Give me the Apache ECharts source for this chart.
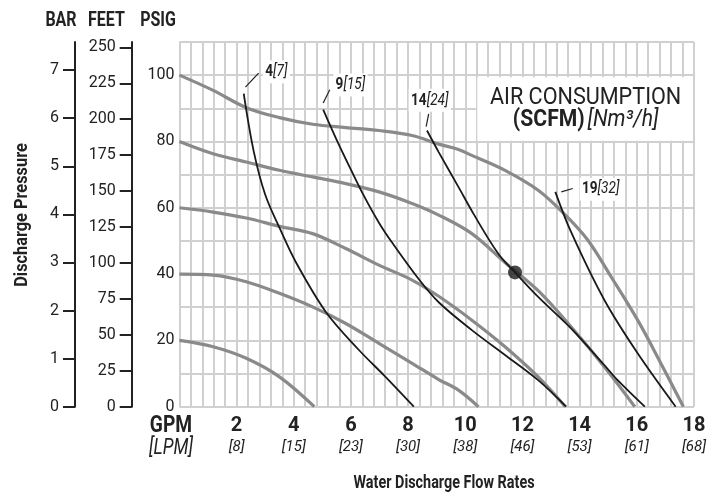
<!DOCTYPE html>
<html><head><meta charset="utf-8">
<script src="https://cdn.jsdelivr.net/npm/echarts@6/dist/echarts.min.js"></script>
<style>html,body{margin:0;padding:0;background:#fff}#c{width:709px;height:493px}</style>
</head><body><div id="c"></div>
<script>
const FONT = "Roboto,'Liberation Sans',sans-serif";
const SX = 0.8; // horizontal condensing for free texts
const GRID = '#d0d0d0';
const GREY = '#8a8a8a';
const BLACK = '#1a1a1a';
const TXT = '#222';

// axis ticks
const gpmTicks = [2, 4, 6, 8, 10, 12, 14, 16, 18];
const lpmLabels = ['[8]', '[15]', '[23]', '[30]', '[38]', '[46]', '[53]', '[61]', '[68]'];
const psigTicks = [0, 20, 40, 60, 80, 100];
const feetTicks = [0, 25, 50, 75, 100, 125, 150, 175, 200, 225, 250];
const barTicks = [0, 1, 2, 3, 4, 5, 6, 7];
const FT_PER_PSI = 2.3067;
const PSI_PER_BAR = 14.5038;
const PSI_MAX = 110;

// performance curves (GPM, PSIG) by air inlet pressure
const perf100 = [[0,100],[1.18,95.4],[2.34,90.2],[3.5,87.2],[4.66,85.2],[5.82,84.2],[6.98,83.3],[8.14,81.8],[9.07,79.2],[9.76,77.6],[10.23,75.8],[11.39,71.3],[12.55,65.3],[13.48,58.0],[14.29,50.2],[15.1,39.2],[16.03,26.1],[16.72,15.1],[17.63,0]];
const perf80 = [[0,80],[1.18,76.3],[2.34,73.8],[3.5,71.3],[4.66,69.3],[5.82,67.3],[6.98,64.8],[8.14,61.3],[9.07,57.8],[10.23,52.2],[11.39,43.5],[12.55,35.0],[13.7,24.1],[14.87,12.0],[15.93,0]];
const perf60 = [[0,60],[1.18,58.7],[2.34,56.9],[3.5,54.4],[4.66,52.2],[5.82,47.7],[6.98,42.7],[8.14,38.2],[9.07,33.3],[10.23,26.1],[11.39,18.1],[12.55,9.0],[13.5,0]];
const perf40 = [[0,40],[1.18,39.7],[2.34,37.7],[3.5,34.2],[4.66,30.1],[5.82,25.1],[6.98,19.1],[8.14,13.1],[9.07,8.2],[9.76,5.0],[10.46,0]];
const perf20 = [[0,20],[1.18,18.1],[2.34,14.6],[3.5,9.0],[4.72,0]];

// air consumption lines (GPM, PSIG)
const scfm4 = [[2.25,94.4],[2.6,77.0],[3.0,64.0],[3.5,54.0],[4.08,43.5],[5.13,28.5],[6.28,17.1],[7.21,9.0],[8.2,0]];
const scfm9 = [[5.03,89.6],[5.5,80.5],[6.0,71.5],[6.46,63.5],[6.98,55.5],[7.44,49.5],[8.37,38.5],[9.07,31.5],[10.23,23.1],[11.39,15.6],[12.55,8.0],[13.53,0]];
const scfm14 = [[8.66,83.3],[9.07,76.8],[9.76,66.3],[10.3,58.0],[11.15,46.2],[11.74,40.5],[12.55,33.1],[13.7,23.6],[14.87,12.5],[15.33,8.0],[16.28,0]];
const scfm19 = [[13.15,64.8],[13.7,52.7],[14.87,32.1],[16.03,16.1],[17.36,0]];
const opPoint = [[11.74,40.5]];

// labels for air consumption lines: [bold, italic, textPos, leaderFrom, leaderTo]
const scfmLabels = [
  ['4', '[7]', [2.92,101.0], [2.31,96.4], [2.77,100.6]],
  ['9', '[15]', [5.38,97.0], [5.03,91.6], [5.26,95.6]],
  ['14', '[24]', [8.02,92.4], [8.63,84.5], [8.72,88.3]],
  ['19', '[32]', [14.0,65.6], [13.36,64.8], [13.76,65.8]]
];

const chart = echarts.init(document.getElementById('c'), null, {renderer: 'canvas'});

function lineSeries(data, color, width, z) {
  return {type: 'line', data: data, smooth: 0.35, showSymbol: false, symbol: 'none',
    lineStyle: {color: color, width: width}, z: z, silent: true, animation: false};
}

const option = {
  animation: false,
  backgroundColor: '#fff',
  grid: {left: 179.4, right: 12.3, top: 42, bottom: 86.3, containLabel: false},
  xAxis: {
    type: 'value', min: 0, max: 18, interval: 0.4,
    axisLine: {show: false}, axisTick: {show: false},
    splitLine: {show: true, lineStyle: {color: GRID, width: 2}},
    axisLabel: {
      customValues: gpmTicks, margin: 8,
      formatter: function (v) { return '{g|' + v + '}\n{l|' + lpmLabels[gpmTicks.indexOf(v)] + '}'; },
      rich: {
        g: {fontFamily: FONT, fontWeight: 'bold', fontSize: 20, color: TXT, lineHeight: 22},
        l: {fontFamily: FONT, fontStyle: 'italic', fontSize: 15, color: TXT, lineHeight: 22}
      }
    }
  },
  yAxis: [
    {type: 'value', min: 0, max: PSI_MAX, interval: 10, position: 'left',
      axisLine: {show: false}, axisTick: {show: false},
      splitLine: {show: true, lineStyle: {color: GRID, width: 2}},
      axisLabel: {customValues: psigTicks, fontFamily: FONT, fontSize: 16, color: TXT, margin: 5}},
    {type: 'value', min: 0, max: PSI_MAX * FT_PER_PSI, position: 'left', offset: 47.7,
      axisLine: {show: true, lineStyle: {color: TXT, width: 2}},
      axisTick: {show: true, length: 12, customValues: feetTicks, lineStyle: {color: TXT, width: 2}},
      splitLine: {show: false},
      axisLabel: {customValues: feetTicks, fontFamily: FONT, fontSize: 16, color: TXT, margin: 16}},
    {type: 'value', min: 0, max: PSI_MAX / PSI_PER_BAR, position: 'left', offset: 104.4,
      axisLine: {show: true, lineStyle: {color: TXT, width: 2}},
      axisTick: {show: true, length: 12, customValues: barTicks, lineStyle: {color: TXT, width: 2}},
      splitLine: {show: false},
      axisLabel: {customValues: barTicks, fontFamily: FONT, fontSize: 16, color: TXT, margin: 16}}
  ],
  series: [
    lineSeries(perf100, GREY, 3.2, 2),
    lineSeries(perf80, GREY, 3.2, 2),
    lineSeries(perf60, GREY, 3.2, 2),
    lineSeries(perf40, GREY, 3.2, 2),
    lineSeries(perf20, GREY, 3.2, 2),
    lineSeries(scfm4, BLACK, 1.8, 3),
    lineSeries(scfm9, BLACK, 1.8, 3),
    lineSeries(scfm14, BLACK, 1.8, 3),
    lineSeries(scfm19, BLACK, 1.8, 3),
    {type: 'scatter', data: opPoint, symbolSize: 14, itemStyle: {color: BLACK}, z: 5, silent: true}
  ]
};
chart.setOption(option);

function px(p) { return chart.convertToPixel({gridIndex: 0}, p); }
function txt(x, y, style, extra) {
  return Object.assign({type: 'text', x: x, y: y, scaleX: SX, z: 11,
    style: Object.assign({fontFamily: FONT, fill: TXT, align: 'center', verticalAlign: 'middle'}, style)}, extra || {});
}

const graphics = [];
const hdr = {fontWeight: 'bold', fontSize: 20};
graphics.push(txt(61, 21, Object.assign({text: 'BAR'}, hdr)));
graphics.push(txt(106.5, 21, Object.assign({text: 'FEET'}, hdr)));
graphics.push(txt(158, 21, Object.assign({text: 'PSIG'}, hdr)));
graphics.push({type: 'text', x: 22, y: 215, rotation: Math.PI / 2, scaleX: 0.86,
  style: {text: 'Discharge Pressure', fontFamily: FONT, fontWeight: 'bold', fontSize: 19, fill: TXT, align: 'center', verticalAlign: 'middle'}});
graphics.push(txt(444, 483, {text: 'Water Discharge Flow Rates', fontWeight: 'bold', fontSize: 18}));
graphics.push(txt(171, 426, {text: 'GPM', fontWeight: 'bold', fontSize: 24}));
graphics.push(txt(171, 448, {text: '[LPM]', fontStyle: 'italic', fontSize: 22}));

// air consumption box
const bTL = px([10.42, 99.4]);
const bBR = px([18, 80.2]);
graphics.push({type: 'rect', shape: {x: bTL[0], y: bTL[1], width: bBR[0] - bTL[0] - 1, height: bBR[1] - bTL[1]},
  style: {fill: '#fff'}, z: 10});
graphics.push(txt((bTL[0] + bBR[0]) / 2, bTL[1] + 21, {text: 'AIR CONSUMPTION', fontSize: 24}, {scaleX: 0.9}));
graphics.push(txt((bTL[0] + bBR[0]) / 2, bTL[1] + 43, {text: '{b|(SCFM)} {i|[Nm³/h]}',
  rich: {b: {fontFamily: FONT, fontWeight: 'bold', fontSize: 23, fill: TXT},
         i: {fontFamily: FONT, fontStyle: 'italic', fontSize: 23, fill: TXT}}}, {scaleX: 0.92}));

// scfm labels
scfmLabels.forEach(function (l) {
  const t = px(l[2]), a = px(l[3]), b = px(l[4]);
  graphics.push(txt(t[0], t[1], {text: '{b|' + l[0] + '}{i|' + l[1] + '}', align: 'left',
      backgroundColor: '#fff', padding: [3, 3, 3, 3],
      rich: {b: {fontFamily: FONT, fontWeight: 'bold', fontSize: 17, fill: TXT},
             i: {fontFamily: FONT, fontStyle: 'italic', fontSize: 17, fill: TXT}}}));
  graphics.push({type: 'line', shape: {x1: a[0], y1: a[1], x2: b[0], y2: b[1]}, z: 11,
    style: {stroke: TXT, lineWidth: 1.2}});
});

chart.setOption({graphic: graphics});
</script>
</body></html>
